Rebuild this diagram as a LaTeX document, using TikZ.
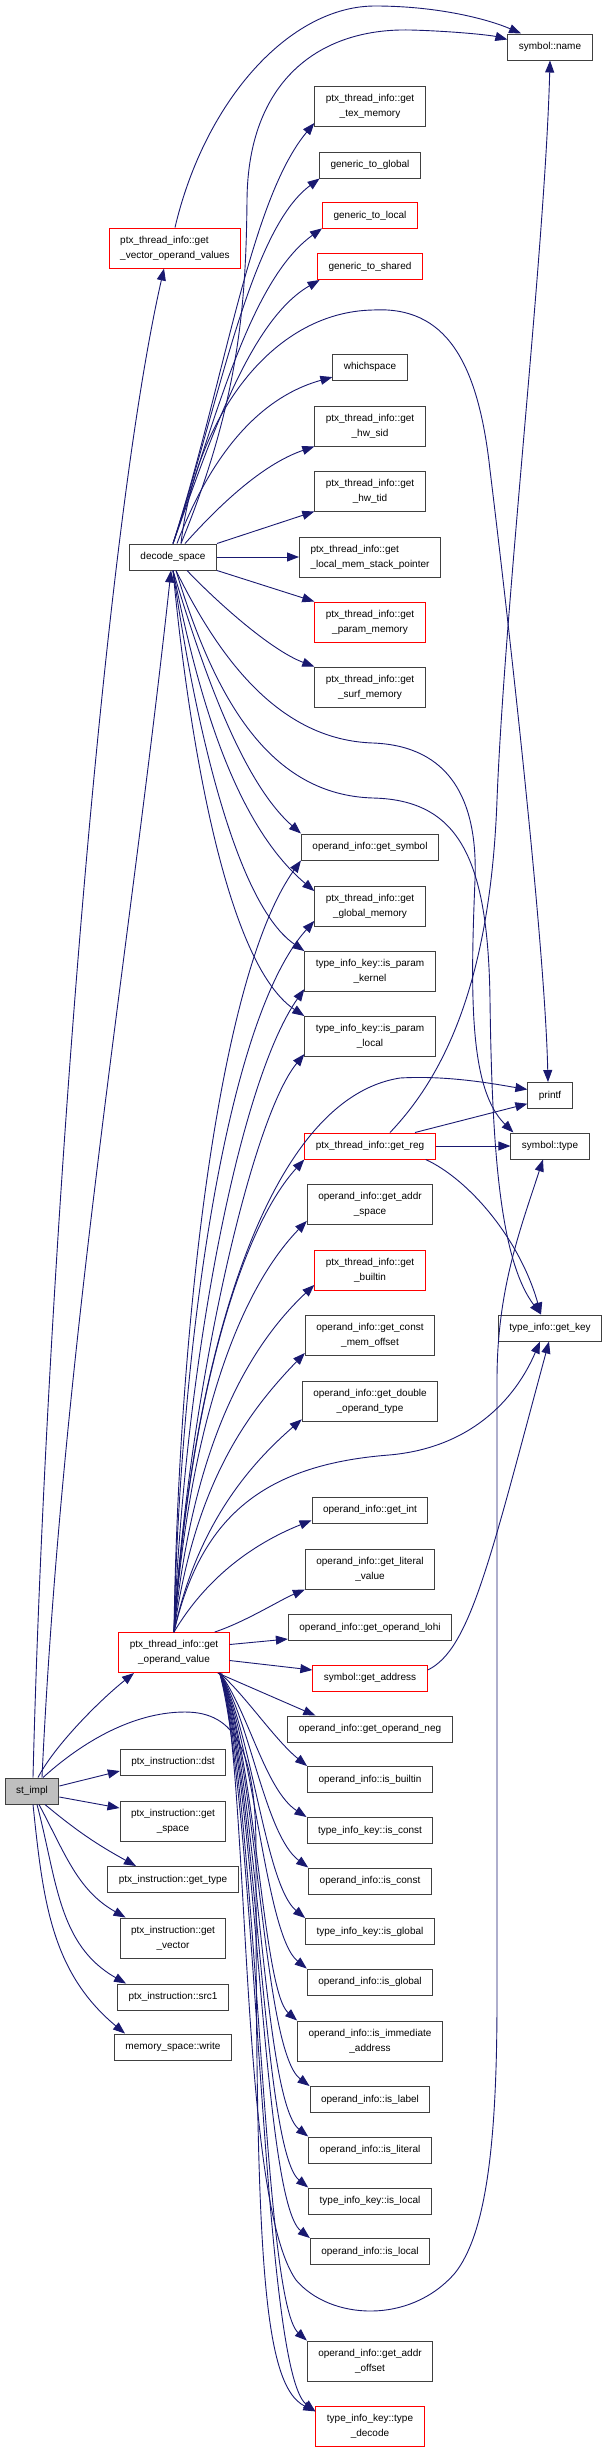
\documentclass[tikz,border=0pt]{standalone}
\usepackage{fontspec}
\setmainfont{Liberation Sans}
\usetikzlibrary{arrows.meta}

\definecolor{EdgeNavy}{HTML}{191970}
\definecolor{BoxLine}{HTML}{404040}
\definecolor{RootGray}{HTML}{BFBFBF}

\begin{document}
\begin{tikzpicture}[x=1pt,y=-1pt,
    every node/.style={rectangle,draw=BoxLine,line width=1pt,fill=white,
                       font=\fontsize{10}{15}\selectfont,align=center,
                       inner xsep=11pt,inner ysep=3pt,minimum height=26pt},
    tall/.style={minimum height=40pt},
    hot/.style={draw=red},
    root/.style={fill=RootGray},
    call/.style={draw=EdgeNavy,line width=0.9pt,
                 -{Triangle[length=12pt,width=9pt]}}]
  \useasboundingbox (0,0) rectangle (607,2452);

  % caller and its direct callees
  \node[root] (stimpl) at (32,1791) {st\_impl};
  \node[tall,hot,align=left] (vecops) at (175,248) {ptx\_thread\_info::get\\\_vector\_operand\_values};
  \node (decode) at (173,557) {decode\_space};
  \node[tall,hot] (opval) at (174,1652.5) {ptx\_thread\_info::get\\\_operand\_value};
  \node (dst) at (173,1762) {ptx\_instruction::dst};
  \node[tall] (getspace) at (173,1821) {ptx\_instruction::get\\\_space};
  \node (gettype) at (173,1879.5) {ptx\_instruction::get\_type};
  \node[tall] (getvector) at (173,1938) {ptx\_instruction::get\\\_vector};
  \node (src1) at (173,1997) {ptx\_instruction::src1};
  \node (write) at (173,2047) {memory\_space::write};

  % third column
  \node[tall] (texmem) at (370,106) {ptx\_thread\_info::get\\\_tex\_memory};
  \node (g2global) at (370,165) {generic\_to\_global};
  \node[hot] (g2local) at (370,215.5) {generic\_to\_local};
  \node[hot] (g2shared) at (370,266.5) {generic\_to\_shared};
  \node (whichspace) at (370,367) {whichspace};
  \node[tall] (hwsid) at (370,426) {ptx\_thread\_info::get\\\_hw\_sid};
  \node[tall] (hwtid) at (370,491) {ptx\_thread\_info::get\\\_hw\_tid};
  \node[tall,align=left] (stackptr) at (370,557) {ptx\_thread\_info::get\\\_local\_mem\_stack\_pointer};
  \node[tall,hot] (parammem) at (370,622) {ptx\_thread\_info::get\\\_param\_memory};
  \node[tall] (surfmem) at (370,687) {ptx\_thread\_info::get\\\_surf\_memory};
  \node (getsym) at (370,847) {operand\_info::get\_symbol};
  \node[tall] (globalmem) at (370,906) {ptx\_thread\_info::get\\\_global\_memory};
  \node[tall] (parkernel) at (370,971.5) {type\_info\_key::is\_param\\\_kernel};
  \node[tall] (parlocal) at (370,1036.5) {type\_info\_key::is\_param\\\_local};
  \node[hot] (getreg) at (370,1146) {ptx\_thread\_info::get\_reg};
  \node[tall] (addrspace) at (370,1204) {operand\_info::get\_addr\\\_space};
  \node[tall,hot] (builtin) at (370,1270) {ptx\_thread\_info::get\\\_builtin};
  \node[tall] (constmem) at (370,1335.5) {operand\_info::get\_const\\\_mem\_offset};
  \node[tall] (dbltype) at (370,1401) {operand\_info::get\_double\\\_operand\_type};
  \node (getint) at (370,1510) {operand\_info::get\_int};
  \node[tall] (literal) at (370,1569) {operand\_info::get\_literal\\\_value};
  \node (lohi) at (370,1627.5) {operand\_info::get\_operand\_lohi};
  \node[hot] (getaddr) at (370,1678) {symbol::get\_address};
  \node (neg) at (370,1729) {operand\_info::get\_operand\_neg};
  \node (isbuiltin) at (370,1779.5) {operand\_info::is\_builtin};
  \node (tikconst) at (370,1830.5) {type\_info\_key::is\_const};
  \node (oiconst) at (370,1881) {operand\_info::is\_const};
  \node (tikglobal) at (370,1931.5) {type\_info\_key::is\_global};
  \node (oiglobal) at (370,1982) {operand\_info::is\_global};
  \node[tall] (immaddr) at (370,2041) {operand\_info::is\_immediate\\\_address};
  \node (label) at (370,2099.5) {operand\_info::is\_label};
  \node (literalis) at (370,2150) {operand\_info::is\_literal};
  \node (tiklocal) at (370,2201) {type\_info\_key::is\_local};
  \node (oilocal) at (370,2251.5) {operand\_info::is\_local};
  \node[tall] (addroffset) at (370,2361) {operand\_info::get\_addr\\\_offset};
  \node[tall,hot] (typedecode) at (370,2426) {type\_info\_key::type\\\_decode};

  % right column
  \node (name) at (550,47) {symbol::name};
  \node (printf) at (550,1095.5) {printf};
  \node (symtype) at (550,1146) {symbol::type};
  \node (getkey) at (550,1328) {type\_info::get\_key};

  % calls from st_impl
  \draw[call] ([xshift=1pt]stimpl.north) .. controls (45,1300) and (100,550) .. ([xshift=-11pt]vecops.south);
  \draw[call] ([xshift=10pt]stimpl.north) .. controls (62,1350) and (130,950) .. ([xshift=-2pt]decode.south);
  \draw[call] ([xshift=6pt]stimpl.north) .. controls (55,1745) and (100,1700) .. ([xshift=-40pt]opval.south);
  \draw[call] ([yshift=5pt]stimpl.east) -- ([yshift=-9pt]dst.west);
  \draw[call] ([yshift=-6pt]stimpl.east) -- ([yshift=13pt]getspace.west);
  \draw[call] ([xshift=13pt]stimpl.south) .. controls (78,1832) and (98,1845) .. ([xshift=-37pt]gettype.north);
  \draw[call] ([xshift=7pt]stimpl.south) .. controls (65,1853) and (77,1890) .. ([xshift=6pt]getvector.north west);
  \draw[call] ([xshift=5pt]stimpl.south) .. controls (57,1880) and (58,1945) .. ([xshift=9pt]src1.north west);
  \draw[call] ([xshift=1pt]stimpl.south) .. controls (43,1900) and (51,1972) .. ([xshift=11pt]write.north west);
  \draw[call] ([xshift=11pt]stimpl.north) .. controls (90,1735) and (140,1712) .. (185,1712)
      .. controls (235,1712) and (256,1750) .. (256,1850)
      .. controls (256,2250) and (262,2385) .. (typedecode.165);

  % calls from decode_space
  \draw[call] ([xshift=8pt]decode.north) .. controls (240,400) and (246,300) .. (247,200)
      .. controls (248,80) and (320,28) .. (410,30) .. controls (450,31) and (490,35) .. (name.170);
  \draw[call] (decode.north) .. controls (225,380) and (250,200) .. (texmem.197);
  \draw[call] (decode.north) .. controls (220,400) and (250,230) .. (g2global.195);
  \draw[call] (decode.north) .. controls (215,420) and (250,280) .. (g2local.195);
  \draw[call] (decode.north) .. controls (210,440) and (250,320) .. (g2shared.195);
  \draw[call] ([xshift=4pt]decode.north) .. controls (205,470) and (250,400) .. (whichspace.195);
  \draw[call] ([xshift=12pt]decode.north) .. controls (215,510) and (260,465) .. (hwsid.south west);
  \draw[call] (decode.north east) -- (hwtid.south west);
  \draw[call] (decode.east) -- (stackptr.west);
  \draw[call] (decode.south east) -- (parammem.north west);
  \draw[call] ([xshift=14pt]decode.south) .. controls (215,600) and (270,650) .. (surfmem.north west);
  \draw[call] (decode.south) .. controls (200,660) and (240,780) .. (getsym.north west);
  \draw[call] (decode.south) .. controls (195,680) and (230,820) .. (globalmem.165);
  \draw[call] (decode.south) .. controls (190,690) and (230,900) .. (parkernel.north west);
  \draw[call] (decode.south) .. controls (185,700) and (220,960) .. (parlocal.north west);
  \draw[call] ([xshift=8pt]decode.north) .. controls (195,420) and (270,312) .. (373,310)
      .. controls (445,306) and (478,360) .. (490,470)
      .. controls (512,650) and (545,950) .. ([xshift=-2pt]printf.north);
  \draw[call] ([xshift=3pt]decode.south) .. controls (220,660) and (280,740) .. (373,743)
      .. controls (450,746) and (478,800) .. (475,880)
      .. controls (470,1000) and (470,1090) .. ([xshift=3pt]symtype.north west);
  \draw[call] ([xshift=3pt]decode.south) .. controls (215,700) and (270,795) .. (373,798)
      .. controls (460,800) and (488,860) .. (490,1000)
      .. controls (492,1150) and (500,1260) .. ([xshift=-9pt]getkey.north);

  % calls from get_vector_operand_values
  \draw[call] (vecops.north) .. controls (205,100) and (290,6) .. (375,6)
      .. controls (440,6) and (490,20) .. (name.155);

  % calls from get_operand_value, upwards
  \draw[call] (opval.north) .. controls (178,1350) and (215,980) .. (getsym.south west);
  \draw[call] (opval.north) .. controls (180,1350) and (225,1020) .. (globalmem.195);
  \draw[call] (opval.north) .. controls (185,1360) and (240,1080) .. (parkernel.195);
  \draw[call] (opval.north) .. controls (188,1400) and (250,1120) .. (parlocal.195);
  \draw[call] (opval.north) .. controls (190,1380) and (260,1100) .. (400,1078)
      .. controls (450,1075) and (500,1085) .. (printf.165);
  \draw[call] (opval.north) .. controls (190,1400) and (240,1230) .. (getreg.south west);
  \draw[call] (opval.north) .. controls (190,1420) and (240,1290) .. (addrspace.195);
  \draw[call] (opval.north) .. controls (192,1450) and (245,1350) .. (builtin.195);
  \draw[call] (opval.north) .. controls (195,1480) and (250,1410) .. (constmem.195);
  \draw[call] (opval.north) .. controls (198,1520) and (255,1460) .. (dbltype.195);
  \draw[call] (opval.north) .. controls (205,1580) and (250,1545) .. (getint.190);
  \draw[call] ([xshift=-15pt]opval.north east) .. controls (245,1622) and (280,1600) .. (literal.south west);
  \draw[call] (opval.north) .. controls (200,1520) and (260,1465) .. (389,1455)
      .. controls (470,1448) and (515,1400) .. ([xshift=-10pt]getkey.south);

  % calls from get_operand_value, to the right
  \draw[call] ([yshift=8pt]opval.east) -- ([yshift=2pt]lohi.south west);
  \draw[call] ([yshift=-8pt]opval.east) -- ([yshift=8pt]getaddr.west);
  \draw[call] ([xshift=-12pt]opval.south east) -- ([xshift=28pt]neg.north west);

  % calls from get_operand_value, downwards
  \draw[call] ([xshift=-10pt]opval.south east) .. controls (245,1695) and (275,1740) .. (isbuiltin.north west);
  \draw[call] ([xshift=-10pt]opval.south east) .. controls (248,1710) and (265,1790) .. (tikconst.north west);
  \draw[call] ([xshift=-10pt]opval.south east) .. controls (250,1720) and (265,1835) .. (oiconst.north west);
  \draw[call] ([xshift=-10pt]opval.south east) .. controls (252,1730) and (265,1885) .. (tikglobal.north west);
  \draw[call] ([xshift=-10pt]opval.south east) .. controls (254,1740) and (265,1935) .. (oiglobal.north west);
  \draw[call] ([xshift=-10pt]opval.south east) .. controls (256,1750) and (262,1990) .. (immaddr.north west);
  \draw[call] ([xshift=-10pt]opval.south east) .. controls (258,1760) and (262,2050) .. (label.north west);
  \draw[call] ([xshift=-10pt]opval.south east) .. controls (258,1770) and (262,2100) .. (literalis.north west);
  \draw[call] ([xshift=-10pt]opval.south east) .. controls (258,1780) and (262,2150) .. (tiklocal.north west);
  \draw[call] ([xshift=-10pt]opval.south east) .. controls (258,1790) and (262,2200) .. (oilocal.north west);
  \draw[call] ([xshift=-10pt]opval.south east) .. controls (258,1800) and (262,2300) .. (addroffset.north west);
  \draw[call] ([xshift=-10pt]opval.south east) .. controls (258,1820) and (262,2370) .. (typedecode.165);
  \draw[call] ([xshift=-8pt]opval.south east) .. controls (250,1800) and (240,2200) .. (296,2280)
      .. controls (330,2320) and (410,2325) .. (455,2273)
      .. controls (485,2235) and (497,2150) .. (497,2000) -- (497,1380)
      .. controls (497,1290) and (520,1230) .. ([xshift=-7pt]symtype.south);

  % calls from get_reg
  \draw[call] ([xshift=20pt]getreg.north) .. controls (440,1080) and (490,990) .. (497,800)
      .. controls (505,600) and (545,250) .. (name.south);
  \draw[call] ([xshift=45pt]getreg.north) -- (printf.-160);
  \draw[call] (getreg.east) -- (symtype.west);
  \draw[call] ([xshift=-10pt]getreg.south east) .. controls (470,1180) and (520,1240) .. ([xshift=-9pt]getkey.north);

  % calls from get_address
  \draw[call] ([yshift=8pt]getaddr.east) .. controls (470,1650) and (490,1560) .. ([xshift=-1pt]getkey.south);
\end{tikzpicture}
\end{document}
